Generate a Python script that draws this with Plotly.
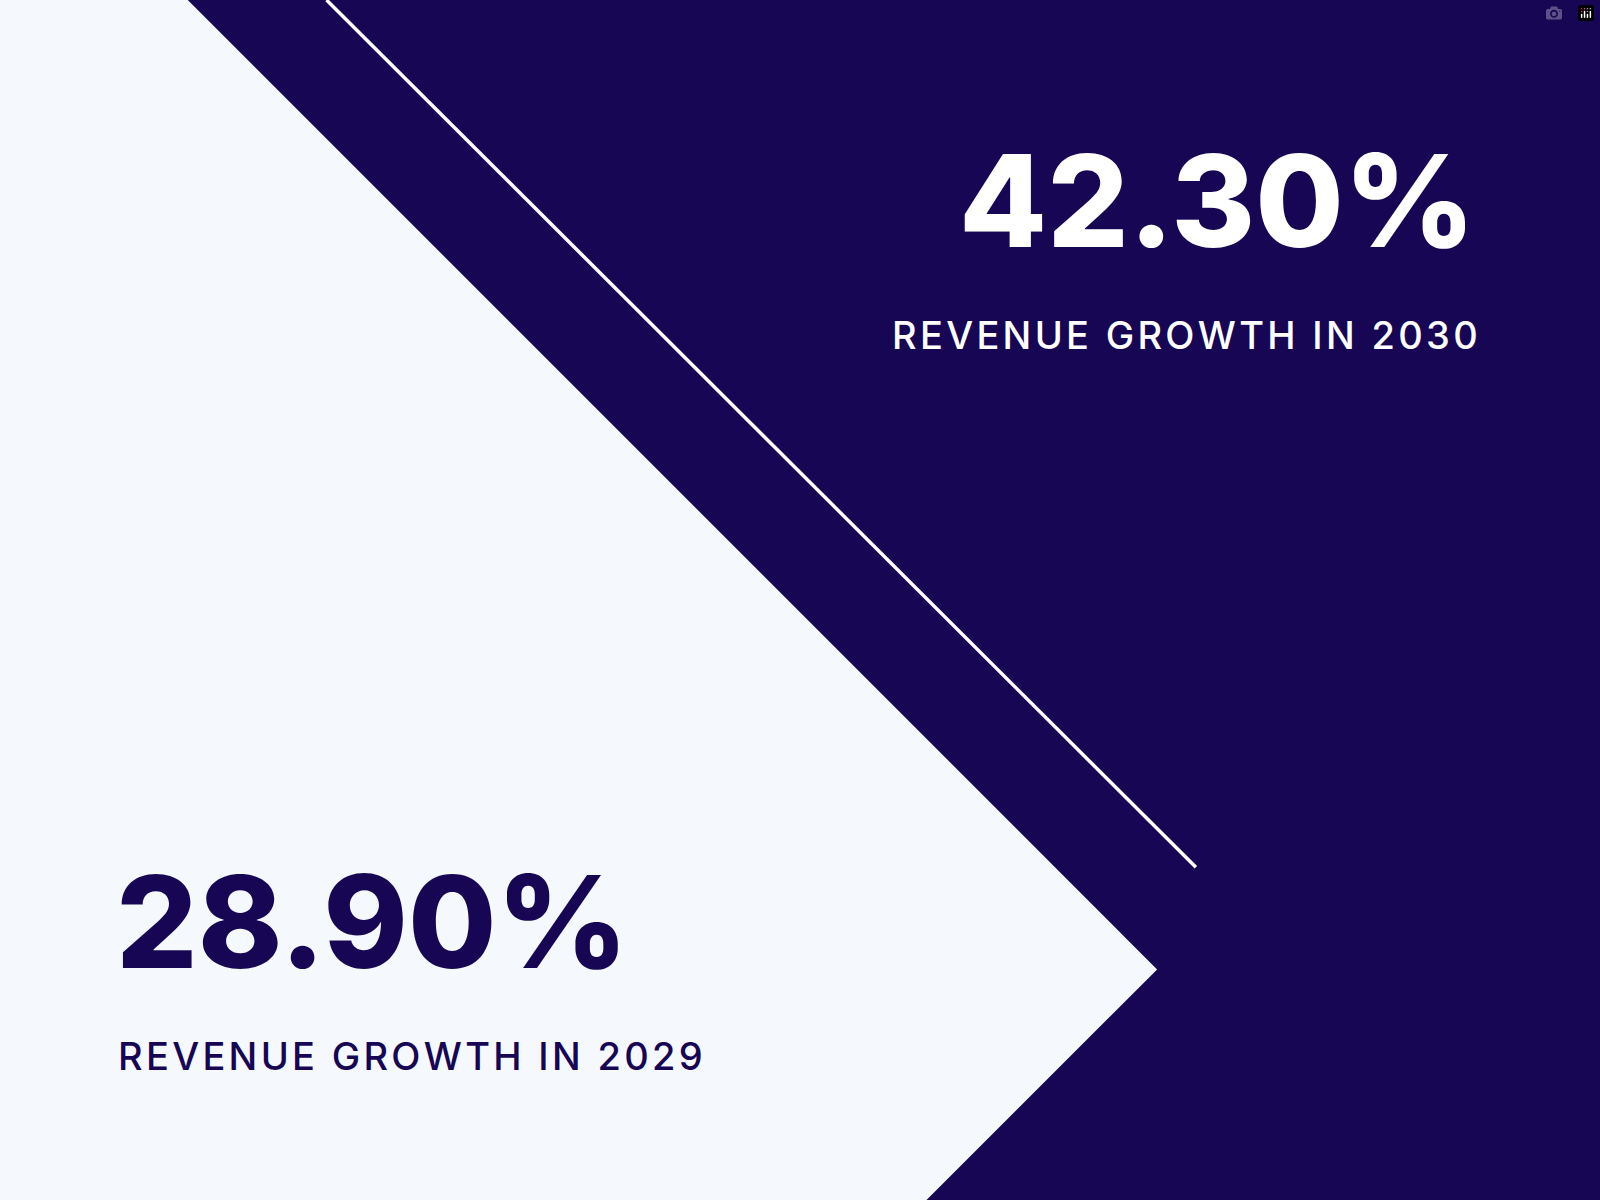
import plotly.graph_objects as go

NAVY = "#170654"
LIGHT = "#f5f9fd"

# picture geometry (reference pixel space, 1568 x 1176)
W, H = 1568, 1176
light_x = [0, 184, 1134, 908, 0]
light_y = [0, 0, 950, 1176, 1176]
line_x = [320, 1172]
line_y = [0, 850]

values = ["42.30%", "28.90%"]
captions = ["REVENUE GROWTH IN 2030", "REVENUE GROWTH IN 2029"]


def track(s):
    # fake letter spacing with hair spaces
    return "\u200a".join(s)


fig = go.Figure()

path = "M " + " L ".join(f"{x},{y}" for x, y in zip(light_x, light_y)) + " Z"
fig.add_shape(type="path", path=path, xref="x", yref="y",
              fillcolor=LIGHT, line=dict(width=0), layer="below")
fig.add_shape(type="line", x0=line_x[0], y0=line_y[0], x1=line_x[1], y1=line_y[1],
              xref="x", yref="y", line=dict(color="white", width=3.5))

fig.add_annotation(x=1448, y=196, text=values[0], showarrow=False, xanchor="right",
                   font=dict(family="Inter", size=128, color="white", weight=800))
fig.add_annotation(x=1450, y=328, text=track(captions[0]), showarrow=False, xanchor="right",
                   font=dict(family="Inter", size=38, color="white", weight=500))
fig.add_annotation(x=112, y=903, text=values[1], showarrow=False, xanchor="left",
                   font=dict(family="Inter", size=128, color=NAVY, weight=800))
fig.add_annotation(x=114, y=1035, text=track(captions[1]), showarrow=False, xanchor="left",
                   font=dict(family="Inter", size=38, color=NAVY, weight=500))

fig.update_xaxes(range=[0, W], visible=False, fixedrange=True)
fig.update_yaxes(range=[H, 0], visible=False, fixedrange=True)
fig.update_layout(width=1600, height=1200, margin=dict(l=0, r=0, t=0, b=0),
                  paper_bgcolor=NAVY, plot_bgcolor=NAVY, showlegend=False)

fig.write_html("out.html")

# drop the default page margin so the graphic fills the window
with open("out.html", encoding="utf-8") as f:
    html = f.read()
html = html.replace("<body>", '<body style="margin:0">', 1)
with open("out.html", "w", encoding="utf-8") as f:
    f.write(html)
